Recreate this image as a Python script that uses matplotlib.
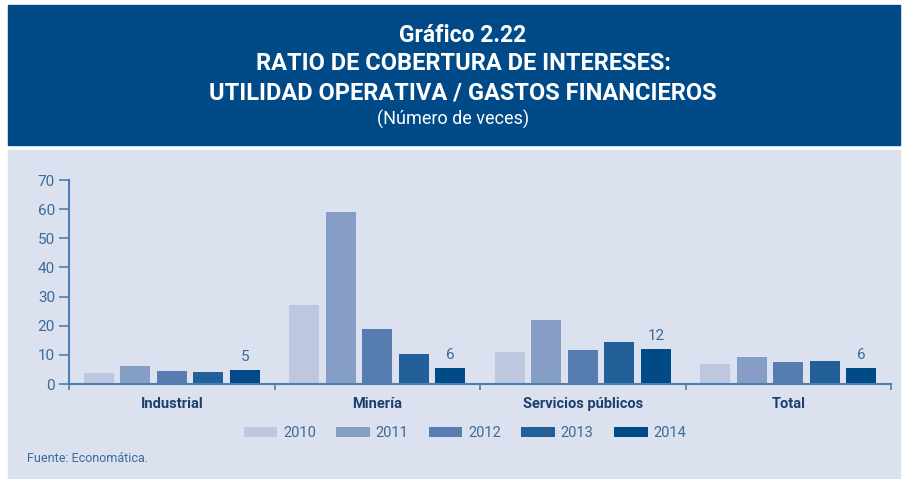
import numpy as np
import matplotlib.pyplot as plt
from matplotlib.patches import Rectangle

# ---------------- data ----------------
categories = ["Industrial", "Minería", "Servicios públicos", "Total"]
years = ["2010", "2011", "2012", "2013", "2014"]
v2010 = [3.9, 27.1, 11.0, 6.9]
v2011 = [6.2, 59.1, 22.0, 9.3]
v2012 = [4.6, 18.9, 11.7, 7.6]
v2013 = [4.1, 10.3, 14.4, 7.9]
v2014 = [4.8, 5.5, 12.0, 5.5]
labels_2014 = ["5", "6", "12", "6"]
series = [v2010, v2011, v2012, v2013, v2014]

colors = ["#bdc7e0", "#869ec6", "#577caf", "#23609a", "#004a87"]
header_col = "#004a87"
panel_col = "#dbe1ee"
axis_col = "#4f7fb2"
text_col = "#3b6a9b"
cat_col = "#1d3f6e"

plt.rcParams['font.family'] = ['Roboto', 'DejaVu Sans']

fig = plt.figure(figsize=(9.07, 4.79), dpi=100)
W, H = 907, 479

def fx(px): return px / W
def fy(py): return 1 - py / H

# header and panel backgrounds
fig.patches.append(Rectangle((fx(8), fy(145)), fx(892), 140 / H,
                             transform=fig.transFigure, color=header_col, zorder=0))
fig.patches.append(Rectangle((fx(8), 0), fx(892), fy(150),
                             transform=fig.transFigure, color=panel_col, zorder=0))

fig.text(fx(463), fy(35), "Gráfico 2.22", ha='center', va='center',
         color='white', fontsize=16.5, fontweight='bold')
fig.text(fx(463), fy(64), "RATIO DE COBERTURA DE INTERESES:", ha='center', va='center',
         color='white', fontsize=17, fontweight='bold')
fig.text(fx(463), fy(93), "UTILIDAD OPERATIVA / GASTOS FINANCIEROS", ha='center', va='center',
         color='white', fontsize=17, fontweight='bold')
fig.text(fx(453), fy(119), "(Número de veces)", ha='center', va='center',
         color='white', fontsize=13)

# axes
ax = fig.add_axes([fx(69), fy(384), fx(891 - 69), (384 - 180) / H])
ax.set_facecolor('none')
ax.set_zorder(3)

x = np.arange(len(categories)) + 0.5
step = 0.178
width = 0.146
for i, (vals, col) in enumerate(zip(series, colors)):
    ax.bar(x + (i - 2) * step, vals, width, color=col, label=years[i], zorder=2)

for xi, v, lab in zip(x, v2014, labels_2014):
    ax.text(xi + 2 * step, v + 2.2, lab, ha='center', va='bottom',
            color=text_col, fontsize=11)

ax.set_xlim(0, 4)
ax.set_ylim(0, 70)
ax.set_yticks(range(0, 71, 10))
ax.tick_params(axis='y', colors=axis_col, labelcolor=text_col, labelsize=11,
               length=7, width=1.2, direction='out', pad=3)
ax.set_xticks([0, 1, 2, 3, 4])
ax.set_xticklabels([])
ax.tick_params(axis='x', colors=axis_col, length=4, width=1.2, direction='out')
for xi, cat in zip(x, categories):
    ax.text(xi, -4.5, cat, ha='center', va='top', color=cat_col,
            fontsize=10.5, fontweight='bold')

for s in ['top', 'right']:
    ax.spines[s].set_visible(False)
for s in ['left', 'bottom']:
    ax.spines[s].set_color(axis_col)
    ax.spines[s].set_linewidth(1.5)

handles, labs = ax.get_legend_handles_labels()
leg = fig.legend(handles, labs, loc='center', bbox_to_anchor=(fx(465), fy(433)), ncol=5,
                 frameon=False, fontsize=10.5, handlelength=2.3, handleheight=0.65,
                 handletextpad=0.4, columnspacing=1.4)
leg.set_zorder(4)
for t in leg.get_texts():
    t.set_color(text_col)

fig.text(fx(27), fy(459), "Fuente: Economática.", ha='left', va='center',
         color=text_col, fontsize=9)

fig.savefig("out.png", dpi=100, facecolor='white')
